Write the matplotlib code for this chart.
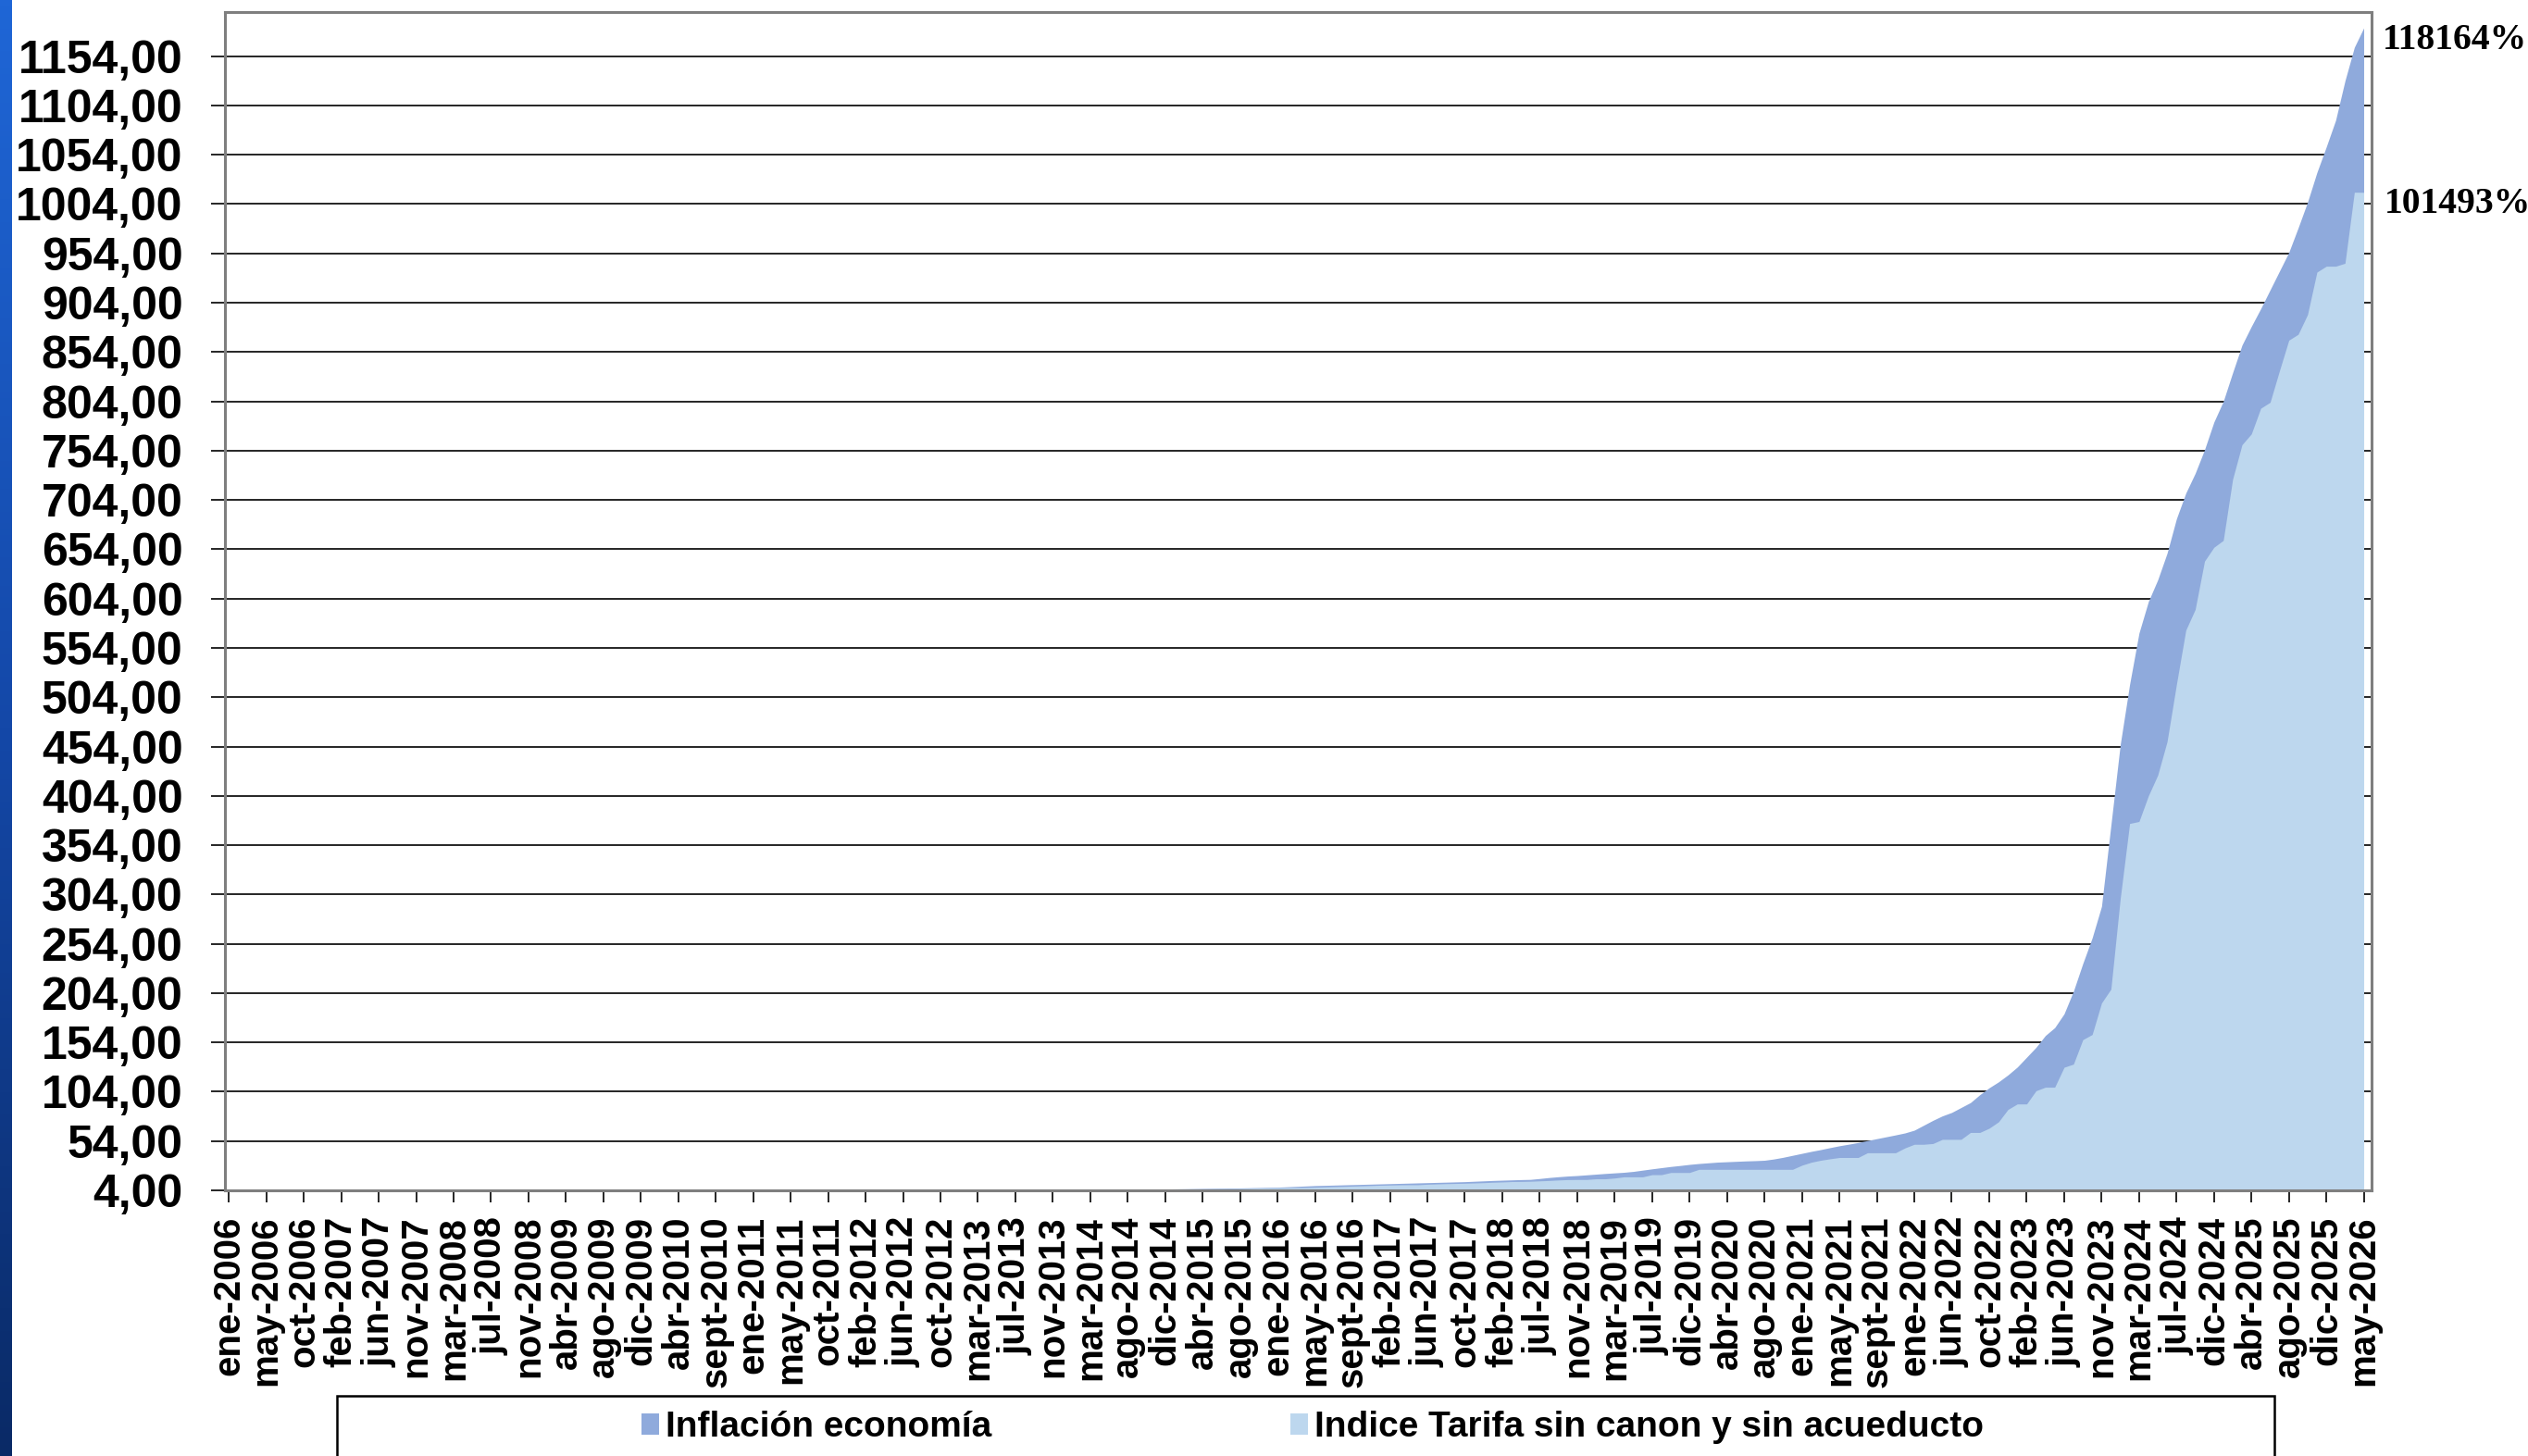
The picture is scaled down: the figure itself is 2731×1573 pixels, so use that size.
import numpy as np
import matplotlib
matplotlib.use("Agg")
import matplotlib.pyplot as plt
from matplotlib.patches import Patch, Rectangle
from matplotlib.colors import LinearSegmentedColormap
from matplotlib.ticker import FuncFormatter

# etiquetas del eje de categorias (una cada 4 datos)
meses = [
    "ene-2006", "may-2006", "oct-2006", "feb-2007", "jun-2007", "nov-2007",
    "mar-2008", "jul-2008", "nov-2008", "abr-2009", "ago-2009", "dic-2009",
    "abr-2010", "sept-2010", "ene-2011", "may-2011", "oct-2011", "feb-2012",
    "jun-2012", "oct-2012", "mar-2013", "jul-2013", "nov-2013", "mar-2014",
    "ago-2014", "dic-2014", "abr-2015", "ago-2015", "ene-2016", "may-2016",
    "sept-2016", "feb-2017", "jun-2017", "oct-2017", "feb-2018", "jul-2018",
    "nov-2018", "mar-2019", "jul-2019", "dic-2019", "abr-2020", "ago-2020",
    "ene-2021", "may-2021", "sept-2021", "ene-2022", "jun-2022", "oct-2022",
    "feb-2023", "jun-2023", "nov-2023", "mar-2024", "jul-2024", "dic-2024",
    "abr-2025", "ago-2025", "dic-2025", "may-2026",
]

# indice inflacion economia (base 1 = ene-2006), 4 datos por etiqueta
inflacion = [
    1.00, 1.01, 1.02, 1.03,   1.04, 1.05, 1.06, 1.07,   1.08, 1.09, 1.10, 1.10,
    1.11, 1.12, 1.13, 1.15,   1.16, 1.18, 1.20, 1.22,   1.24, 1.25, 1.27, 1.28,
    1.30, 1.32, 1.34, 1.36,   1.38, 1.40, 1.42, 1.44,   1.45, 1.47, 1.50, 1.52,
    1.55, 1.57, 1.59, 1.60,   1.62, 1.64, 1.66, 1.68,   1.70, 1.74, 1.78, 1.81,
    1.85, 1.89, 1.93, 1.96,   2.00, 2.03, 2.06, 2.09,   2.12, 2.15, 2.18, 2.22,
    2.25, 2.30, 2.35, 2.40,   2.45, 2.49, 2.53, 2.56,   2.60, 2.65, 2.69, 2.74,
    2.78, 2.82, 2.87, 2.91,   2.95, 3.00, 3.05, 3.10,   3.15, 3.20, 3.25, 3.30,
    3.35, 3.41, 3.47, 3.53,   3.60, 3.72, 3.85, 3.97,   4.10, 4.25, 4.40, 4.55,
    4.70, 4.85, 5.00, 5.15,   5.30, 5.45, 5.60, 5.75,   5.90, 6.02, 6.15, 6.27,
    6.40, 6.60, 6.80, 7.00,   7.20, 7.60, 8.00, 8.40,   8.80, 9.05, 9.30, 9.55,
    9.80, 10.05, 10.30, 10.55,   10.8, 11.05, 11.3, 11.55,   11.8, 12.05, 12.3, 12.55,
    12.8, 13.2, 13.6, 14.0,   14.3, 14.6, 14.9, 15.1,   16.0, 17.0, 17.8, 18.5,
    19.0, 19.7, 20.4, 21.1,   21.7, 22.3, 23.2, 24.5,   25.8, 27.0, 28.2, 29.2,
    30.3, 31.2, 31.9, 32.6,   33.0, 33.4, 33.8, 34.1,   34.5, 35.8, 37.5, 39.5,
    41.5, 43.5, 45.3, 47.3,   49.2, 50.8, 52.5, 54.5,   56.4, 58.3, 60.2, 62.2,
    65.0, 70.0, 75.0, 79.5,   83.0, 88.0, 93.0, 101.0,   108.0, 114.0, 121.0, 129.0,
    139.0, 149.0, 161.0, 169.0,   183.0, 206.0, 234.0, 260.0,   292.0, 374.0, 456.0, 517.0,
    569.0, 601.0, 623.0, 650.0,   685.0, 711.0, 731.0, 755.0,   783.0, 804.0, 833.0, 861.0,
    880.0, 898.0, 917.0, 936.0,   955.0, 980.0, 1006.0, 1036.0,   1062.0, 1089.0, 1129.0, 1163.0,
    1182.64,
]

# indice tarifa sin canon y sin acueducto (base 1 = ene-2006)
tarifa = [
    1.00, 1.00, 1.00, 1.00,   1.00, 1.00, 1.05, 1.05,   1.05, 1.05, 1.05, 1.05,
    1.05, 1.10, 1.10, 1.10,   1.10, 1.10, 1.10, 1.15,   1.15, 1.15, 1.20, 1.20,
    1.20, 1.25, 1.25, 1.25,   1.30, 1.30, 1.30, 1.35,   1.35, 1.40, 1.40, 1.40,
    1.45, 1.45, 1.50, 1.50,   1.50, 1.55, 1.55, 1.60,   1.60, 1.65, 1.65, 1.70,
    1.70, 1.75, 1.80, 1.80,   1.85, 1.90, 1.90, 1.95,   2.00, 2.00, 2.05, 2.10,
    2.10, 2.15, 2.20, 2.25,   2.30, 2.35, 2.35, 2.40,   2.45, 2.50, 2.55, 2.60,
    2.60, 2.65, 2.70, 2.75,   2.80, 2.85, 2.90, 2.95,   3.00, 3.05, 3.10, 3.15,
    3.20, 3.25, 3.30, 3.35,   3.45, 3.55, 3.65, 3.75,   3.85, 4.00, 4.15, 4.30,
    4.45, 4.60, 4.70, 4.85,   5.00, 5.10, 5.20, 5.30,   5.40, 5.50, 5.60, 5.70,
    5.90, 6.10, 6.30, 6.50,   6.70, 6.80, 6.90, 7.00,   7.20, 7.50, 7.80, 8.00,
    8.30, 8.60, 8.90, 9.20,   9.40, 9.60, 9.70, 9.70,   10.2, 10.5, 10.8, 11.0,
    11.2, 11.5, 11.8, 12.2,   12.5, 12.9, 13.0, 13.2,   13.6, 14.0, 14.5, 14.9,
    15.0, 15.0, 15.7, 15.7,   16.5, 17.7, 17.7, 17.7,   19.9, 19.9, 22.1, 22.1,
    22.1, 25.3, 25.3, 25.3,   25.3, 25.3, 25.3, 25.3,   25.3, 25.3, 25.3, 25.3,
    29.5, 32.5, 34.5, 36.0,   37.3, 37.3, 37.3, 42.1,   42.1, 42.1, 42.1, 47.0,
    50.7, 50.7, 51.5, 55.7,   55.7, 55.7, 62.7, 62.7,   67.0, 73.5, 86.0, 91.6,
    91.6, 105.0, 108.6, 108.6,   128.8, 132.0, 156.8, 162.0,   194.0, 208.0, 300.0, 376.0,
    378.0, 404.0, 425.0, 459.0,   517.0, 572.0, 593.0, 642.0,   656.0, 663.0, 725.0, 760.0,
    771.0, 797.0, 803.0, 835.0,   866.0, 872.0, 892.0, 935.0,   941.0, 941.0, 944.0, 1016.0,
    1015.93,
]

serie_nombres = ["Inflación economía", "Indice Tarifa sin canon y sin acueducto"]
color_inflacion = "#8FAADC"
color_tarifa = "#BDD7EE"
datos_por_etiqueta = 4

W, H = 2731, 1573
plt.rcParams["font.family"] = ["Liberation Sans", "DejaVu Sans"]
plt.rcParams["font.weight"] = "bold"

fig = plt.figure(figsize=(W / 100, H / 100), dpi=100)
fig.patch.set_facecolor("white")

# franja azul del borde izquierdo
barra = fig.add_axes([0, 0, 13 / W, 1])
barra.imshow(np.linspace(0, 1, 256).reshape(-1, 1), aspect="auto",
             cmap=LinearSegmentedColormap.from_list("franja", ["#1f66d6", "#1448a8", "#0a2a66"]))
barra.axis("off")

ax = fig.add_axes([243 / W, 1 - 1286 / H, (2562 - 243) / W, (1286 - 12.7) / H])
x = np.arange(len(inflacion))

ax.fill_between(x, 4, inflacion, color=color_inflacion, lw=0, zorder=1)
ax.fill_between(x, 4, tarifa, color=color_tarifa, lw=0, zorder=2)

ax.set_xlim(-0.42, 228.84)
ax.set_ylim(4, 1199)
ax.set_axisbelow(True)
ax.yaxis.grid(True, color="#000000", lw=1.2)

ax.set_yticks(np.arange(4, 1155, 50))
ax.yaxis.set_major_formatter(FuncFormatter(lambda v, p: f"{v:.2f}".replace(".", ",")))
ax.set_xticks(np.arange(0, len(inflacion), datos_por_etiqueta))
ax.set_xticklabels(meses, rotation=90)

ax.tick_params(axis="y", length=10.8, width=1.2, pad=22, labelsize=36, direction="out")
ax.tick_params(axis="x", length=9, width=1.2, pad=11, labelsize=29, direction="out")
for lab in ax.get_xticklabels() + ax.get_yticklabels():
    lab.set_fontweight("bold")

for s in ax.spines.values():
    s.set_color("#7f7f7f")
    s.set_linewidth(2.2)

# variacion acumulada al final del periodo
for serie, dx in [(inflacion, 20), (tarifa, 22)]:
    ax.annotate(f"{(serie[-1] / serie[0] - 1) * 100:.0f}%", xy=(x[-1], serie[-1]),
                xytext=(dx, -13), textcoords="offset pixels", ha="left", va="center",
                family="Liberation Serif", fontweight="bold", fontsize=28.5,
                annotation_clip=False)

# leyenda abajo con su recuadro
handles = [Patch(facecolor=color_inflacion), Patch(facecolor=color_tarifa)]
fig.legend(handles, serie_nombres, loc="center", bbox_to_anchor=(1418 / W, 31 / H),
           ncol=2, frameon=False, prop={"weight": "bold", "size": 28},
           handlelength=0.5, handleheight=0.55, handletextpad=0.18,
           columnspacing=8.3, borderaxespad=0)
fig.add_artist(Rectangle((364 / W, -0.02), (2457 - 364) / W, (1573 - 1508) / H + 0.02,
                         transform=fig.transFigure, fill=False, edgecolor="black",
                         lw=1.8, clip_on=False))

fig.savefig("out.png", dpi=100)
